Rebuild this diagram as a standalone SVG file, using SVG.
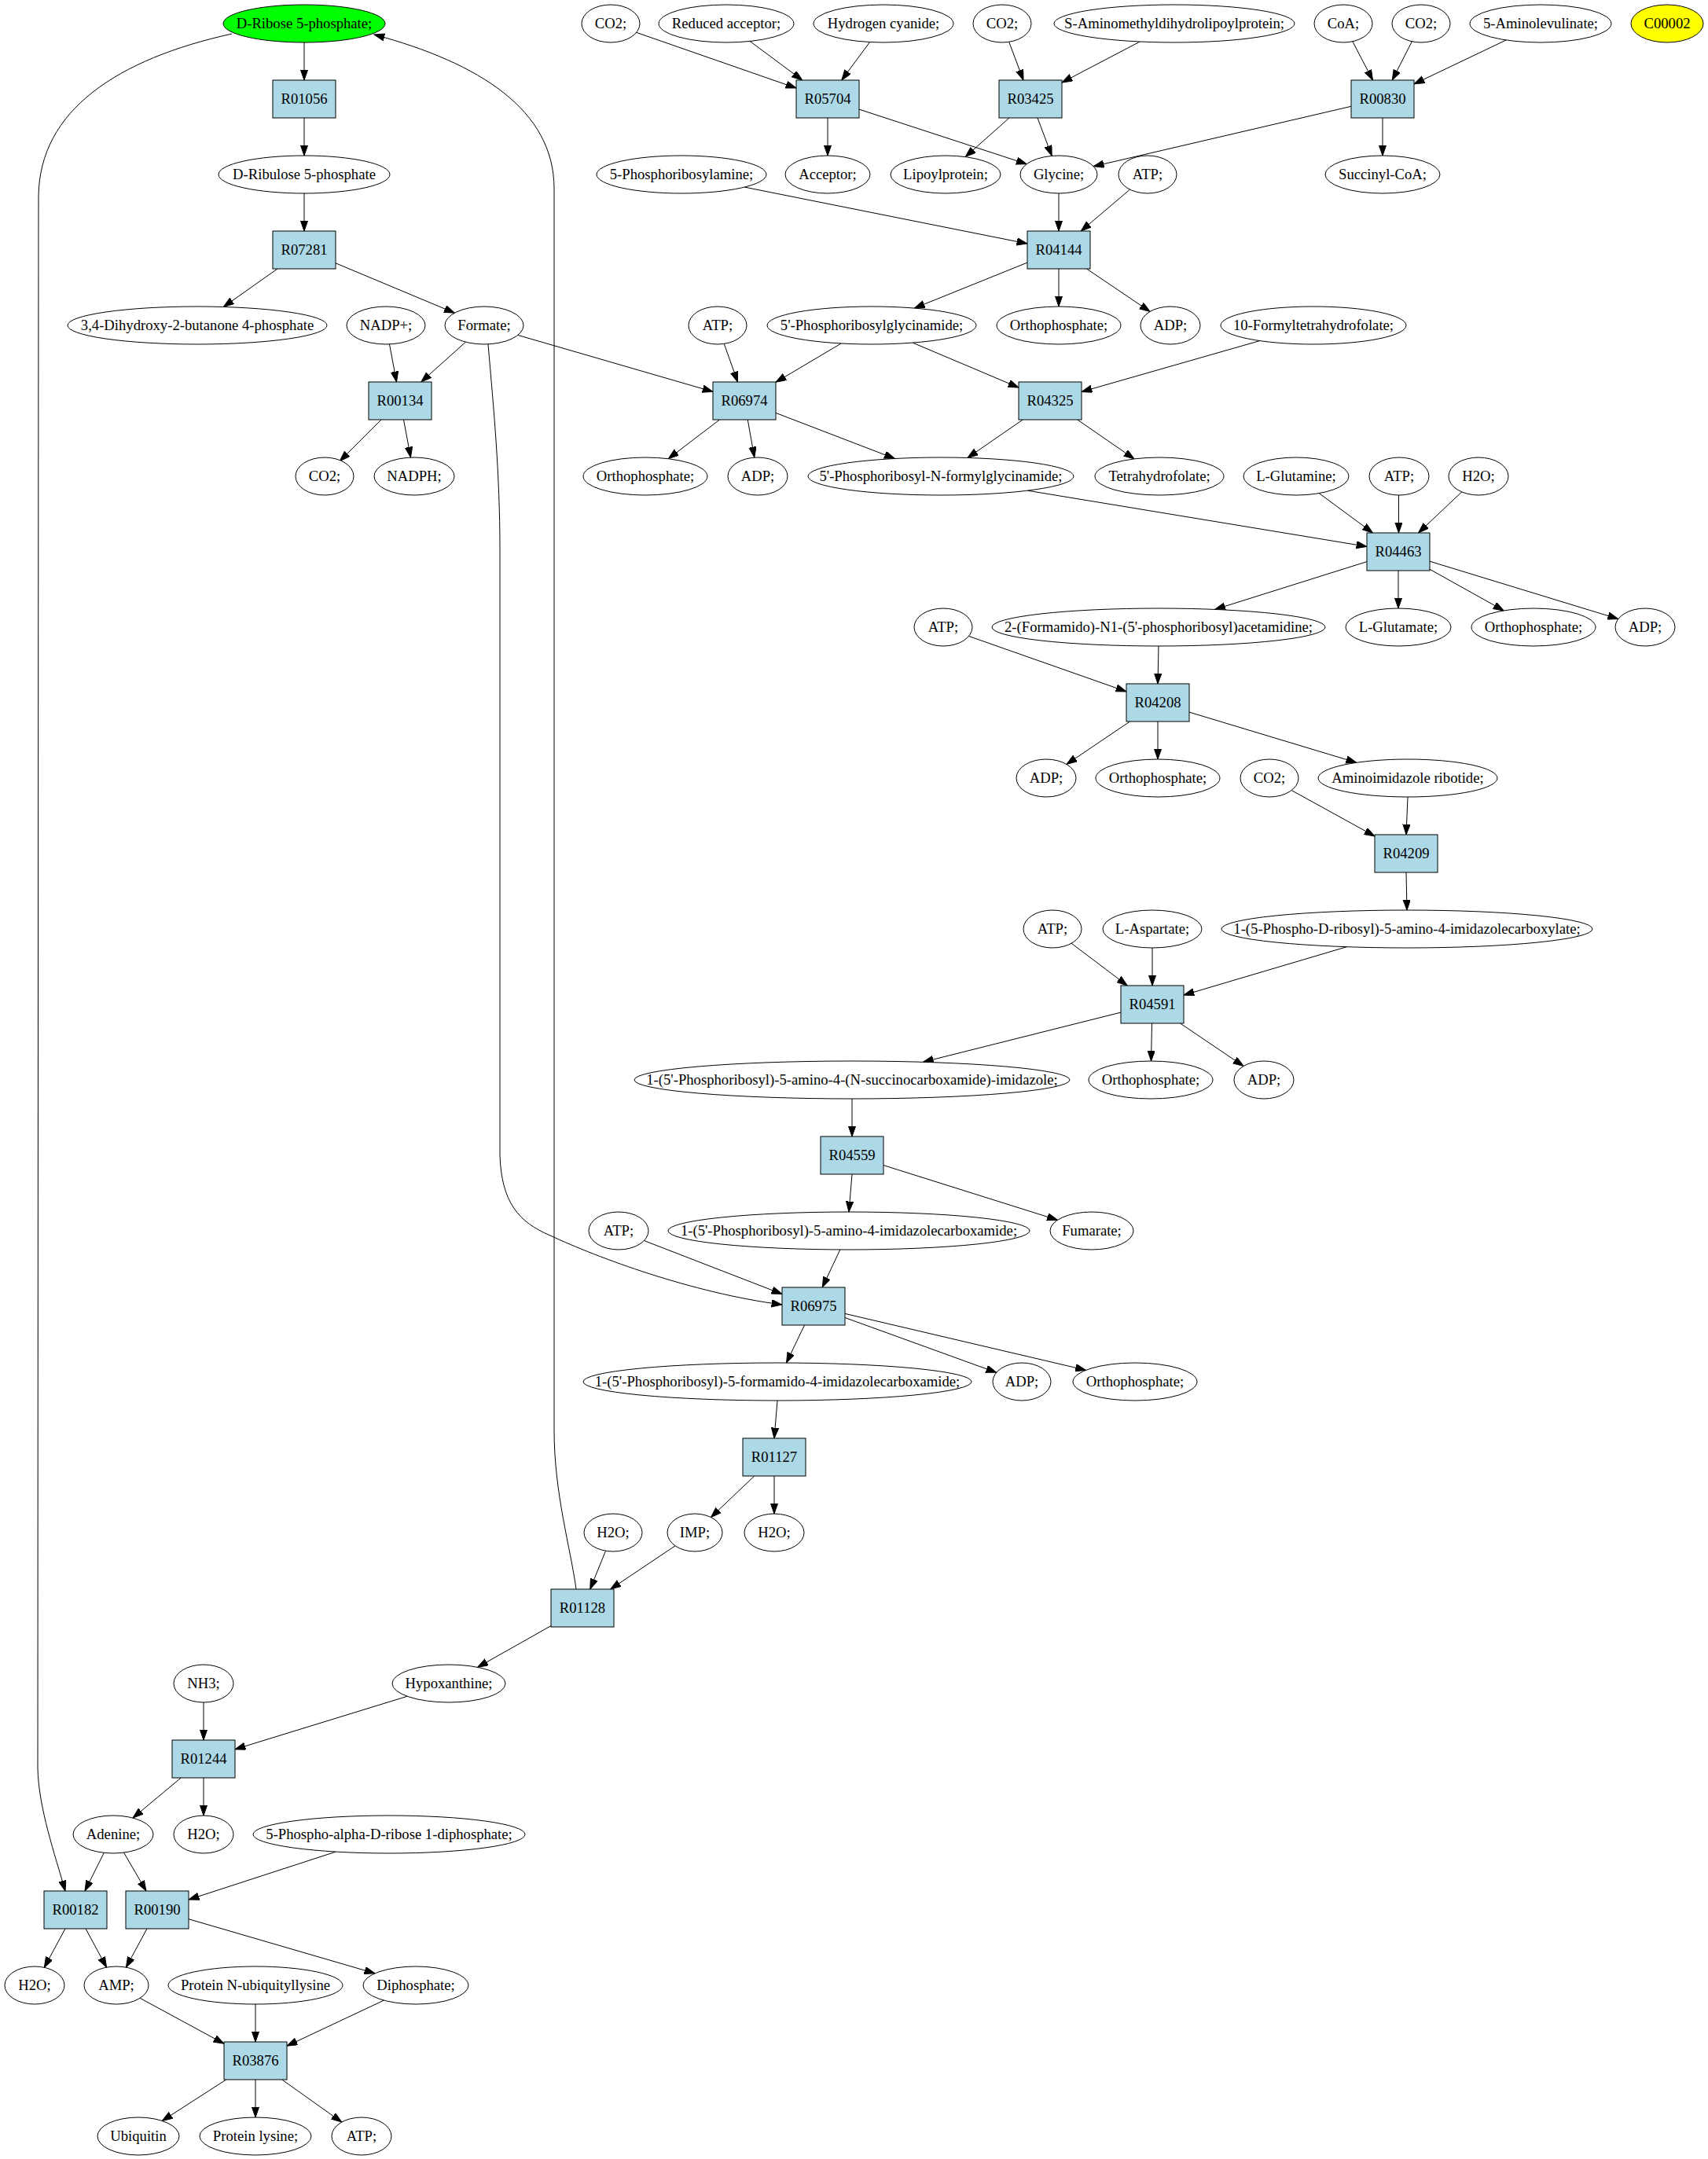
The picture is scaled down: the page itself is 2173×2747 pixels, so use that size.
<svg xmlns="http://www.w3.org/2000/svg" width="2173" height="2747" viewBox="0 0 2173 2747">
<style>
text{font-family:"Liberation Serif","Times New Roman",serif;font-size:18.67px;text-anchor:middle;fill:#000}
.c ellipse{fill:#fff;stroke:#000;stroke-width:1}
.r rect{fill:#add8e6;stroke:#000;stroke-width:1}
#edges path,#edges line{fill:none;stroke:#000;stroke-width:1;marker-end:url(#ah)}
</style>
<defs>
<marker id="ah" markerUnits="userSpaceOnUse" markerWidth="14" markerHeight="10" refX="13.33" refY="4.67" orient="auto">
<path d="M0,0 L13.33,4.67 L0,9.33 z" fill="#000" stroke="#000" stroke-width="1"/>
</marker>
</defs>
<rect width="2173" height="2747" fill="#fff"/>
<g id="edges">
<line x1="387" y1="54" x2="387" y2="102"/>
<line x1="387" y1="150" x2="387" y2="198"/>
<line x1="387" y1="246" x2="387" y2="294"/>
<line x1="353" y1="342" x2="284.3" y2="390.5"/>
<line x1="427" y1="334.8" x2="578.4" y2="398.2"/>
<line x1="495.5" y1="438" x2="504.5" y2="486"/>
<line x1="592.4" y1="435.2" x2="535.75" y2="486"/>
<line x1="485" y1="534" x2="432.3" y2="586.7"/>
<line x1="513.5" y1="534" x2="522.5" y2="582"/>
<line x1="658.8" y1="426.4" x2="907" y2="498.4"/>
<path d="M621,438 C628,520 636,600 636,700 L636,1470 C638,1530 660,1555 700,1572 C760,1600 880,1645 995,1660"/>
<path d="M295,43 C150,75 50,140 49,250 L48,2250 C49,2300 70,2360 83,2406"/>
<path d="M733,2022 C726,1970 705,1900 705,1820 L705,240 C705,140 610,80 476,44"/>
<line x1="809.6" y1="41.3" x2="1013" y2="112.1"/>
<line x1="954.2" y1="52.5" x2="1020.75" y2="102"/>
<line x1="1106.6" y1="53.5" x2="1070.75" y2="102"/>
<line x1="1053" y1="150" x2="1053" y2="198"/>
<line x1="1093" y1="139.1" x2="1306.2" y2="208.7"/>
<line x1="1283.7" y1="53.3" x2="1302" y2="102"/>
<line x1="1450.2" y1="53" x2="1351" y2="105"/>
<line x1="1284" y1="150" x2="1228.2" y2="199.6"/>
<line x1="1320" y1="150" x2="1338.2" y2="198.4"/>
<line x1="1720.8" y1="52.7" x2="1746.5" y2="102"/>
<line x1="1796.4" y1="52.7" x2="1771.25" y2="102"/>
<line x1="1916.1" y1="51" x2="1799" y2="106.9"/>
<line x1="1719" y1="135.3" x2="1391.2" y2="211.7"/>
<line x1="1759" y1="150" x2="1759" y2="198"/>
<line x1="947.3" y1="238.1" x2="1307" y2="310"/>
<line x1="1347" y1="246" x2="1347" y2="294"/>
<line x1="1437.5" y1="241.1" x2="1375.25" y2="294"/>
<line x1="1307" y1="334.1" x2="1163.3" y2="392.1"/>
<line x1="1347" y1="342" x2="1347" y2="390"/>
<line x1="1382.5" y1="342" x2="1463.1" y2="396.5"/>
<line x1="921.3" y1="437.5" x2="938.5" y2="486"/>
<line x1="1070.3" y1="436.9" x2="987" y2="486.3"/>
<line x1="1161.2" y1="436.1" x2="1296" y2="493.1"/>
<line x1="1602.7" y1="433.6" x2="1376" y2="498.5"/>
<line x1="915.5" y1="534" x2="850.3" y2="583.7"/>
<line x1="951.25" y1="534" x2="959.8" y2="582"/>
<line x1="987" y1="525.4" x2="1138.4" y2="583.5"/>
<line x1="1301.25" y1="534" x2="1231" y2="582.5"/>
<line x1="1370.75" y1="534" x2="1443" y2="583.9"/>
<line x1="1307.3" y1="624.2" x2="1739" y2="695.4"/>
<line x1="1678.2" y1="627.6" x2="1746.5" y2="678"/>
<line x1="1779.5" y1="630" x2="1779.5" y2="678"/>
<line x1="1859.8" y1="625.9" x2="1804.5" y2="678"/>
<line x1="1739" y1="714.6" x2="1545.7" y2="775.4"/>
<line x1="1779" y1="726" x2="1779" y2="774"/>
<line x1="1819" y1="724.3" x2="1913.2" y2="776.9"/>
<line x1="1819" y1="714.2" x2="2058.8" y2="787.5"/>
<line x1="1232.5" y1="809.4" x2="1433" y2="879.9"/>
<line x1="1474" y1="822" x2="1473" y2="870"/>
<line x1="1437.5" y1="918" x2="1356.9" y2="972.5"/>
<line x1="1473" y1="918" x2="1473" y2="966"/>
<line x1="1513" y1="906.1" x2="1725.8" y2="970.3"/>
<line x1="1643.2" y1="1005.6" x2="1749" y2="1063.9"/>
<line x1="1791" y1="1014" x2="1789" y2="1062"/>
<line x1="1789" y1="1110" x2="1790" y2="1158"/>
<line x1="1363.1" y1="1200.2" x2="1434.25" y2="1254"/>
<line x1="1466" y1="1206" x2="1466" y2="1254"/>
<line x1="1713.4" y1="1204.7" x2="1506" y2="1266.1"/>
<line x1="1426" y1="1288.1" x2="1174.3" y2="1351.3"/>
<line x1="1465.5" y1="1302" x2="1464.5" y2="1350"/>
<line x1="1501.5" y1="1302" x2="1582.1" y2="1356.5"/>
<line x1="1084" y1="1398" x2="1084" y2="1446"/>
<line x1="1084" y1="1494" x2="1080" y2="1542"/>
<line x1="1124" y1="1482.6" x2="1345.5" y2="1552.3"/>
<line x1="819.4" y1="1578.5" x2="995" y2="1646.5"/>
<line x1="1068.8" y1="1590" x2="1046.25" y2="1638"/>
<line x1="1023.5" y1="1686" x2="1000.5" y2="1734"/>
<line x1="1075" y1="1676.5" x2="1267.7" y2="1746.3"/>
<line x1="1075" y1="1671.4" x2="1381.5" y2="1743.3"/>
<line x1="989" y1="1782" x2="985" y2="1830"/>
<line x1="959.75" y1="1878" x2="904.5" y2="1930.5"/>
<line x1="985" y1="1878" x2="985" y2="1926"/>
<line x1="770.5" y1="1973.3" x2="750.75" y2="2022"/>
<line x1="859" y1="1966.8" x2="776.75" y2="2022"/>
<line x1="701" y1="2068.6" x2="607.6" y2="2121.3"/>
<line x1="259" y1="2166" x2="259" y2="2214"/>
<line x1="518.1" y1="2158.3" x2="299" y2="2225.7"/>
<line x1="230.25" y1="2262" x2="169" y2="2313.1"/>
<line x1="259" y1="2262" x2="259" y2="2310"/>
<line x1="132.3" y1="2357.4" x2="108" y2="2406"/>
<line x1="157.5" y1="2357.1" x2="186" y2="2406"/>
<line x1="427.2" y1="2356.1" x2="240" y2="2417"/>
<line x1="83" y1="2454" x2="56.3" y2="2503.3"/>
<line x1="109" y1="2454" x2="135.6" y2="2503.1"/>
<line x1="187" y1="2454" x2="160.4" y2="2503.1"/>
<line x1="240" y1="2441.7" x2="477" y2="2510.8"/>
<line x1="178.1" y1="2542.3" x2="285" y2="2600.3"/>
<line x1="325" y1="2550" x2="325" y2="2598"/>
<line x1="488.4" y1="2545.1" x2="365" y2="2603.2"/>
<line x1="287.75" y1="2646" x2="206.3" y2="2698.5"/>
<line x1="325" y1="2646" x2="325" y2="2694"/>
<line x1="358.75" y1="2646" x2="434.8" y2="2700.1"/>
</g>
<g id="n_rib5p" class="c"><ellipse cx="387" cy="30" rx="103" ry="24" style="fill:#00ff00"/><text x="387" y="36">D-Ribose 5-phosphate;</text></g>
<g id="n_co2a" class="c"><ellipse cx="777" cy="30" rx="37" ry="24"/><text x="777" y="36">CO2;</text></g>
<g id="n_redacc" class="c"><ellipse cx="924" cy="30" rx="86" ry="24"/><text x="924" y="36">Reduced acceptor;</text></g>
<g id="n_hcn" class="c"><ellipse cx="1124" cy="30" rx="89" ry="24"/><text x="1124" y="36">Hydrogen cyanide;</text></g>
<g id="n_co2b" class="c"><ellipse cx="1275" cy="30" rx="37" ry="24"/><text x="1275" y="36">CO2;</text></g>
<g id="n_samdl" class="c"><ellipse cx="1494" cy="30" rx="153" ry="24"/><text x="1494" y="36">S-Aminomethyldihydrolipoylprotein;</text></g>
<g id="n_coa" class="c"><ellipse cx="1709" cy="30" rx="37" ry="24"/><text x="1709" y="36">CoA;</text></g>
<g id="n_co2c" class="c"><ellipse cx="1808" cy="30" rx="37" ry="24"/><text x="1808" y="36">CO2;</text></g>
<g id="n_ala" class="c"><ellipse cx="1960" cy="30" rx="90" ry="24"/><text x="1960" y="36">5-Aminolevulinate;</text></g>
<g id="n_c00002" class="c"><ellipse cx="2121" cy="30" rx="46" ry="24" style="fill:#ffff00"/><text x="2121" y="36">C00002</text></g>
<g id="R01056" class="r"><rect x="347" y="102" width="80" height="48"/><text x="387" y="132">R01056</text></g>
<g id="R05704" class="r"><rect x="1013" y="102" width="80" height="48"/><text x="1053" y="132">R05704</text></g>
<g id="R03425" class="r"><rect x="1271" y="102" width="80" height="48"/><text x="1311" y="132">R03425</text></g>
<g id="R00830" class="r"><rect x="1719" y="102" width="80" height="48"/><text x="1759" y="132">R00830</text></g>
<g id="n_ribu5p" class="c"><ellipse cx="387" cy="222" rx="109" ry="24"/><text x="387" y="228">D-Ribulose 5-phosphate</text></g>
<g id="n_pra" class="c"><ellipse cx="867" cy="222" rx="108" ry="24"/><text x="867" y="228">5-Phosphoribosylamine;</text></g>
<g id="n_acceptor" class="c"><ellipse cx="1053" cy="222" rx="54" ry="24"/><text x="1053" y="228">Acceptor;</text></g>
<g id="n_lipoyl" class="c"><ellipse cx="1203" cy="222" rx="70" ry="24"/><text x="1203" y="228">Lipoylprotein;</text></g>
<g id="n_glycine" class="c"><ellipse cx="1347" cy="222" rx="49" ry="24"/><text x="1347" y="228">Glycine;</text></g>
<g id="n_atp1" class="c"><ellipse cx="1460" cy="222" rx="37" ry="24"/><text x="1460" y="228">ATP;</text></g>
<g id="n_succoa" class="c"><ellipse cx="1759" cy="222" rx="73" ry="24"/><text x="1759" y="228">Succinyl-CoA;</text></g>
<g id="R07281" class="r"><rect x="347" y="294" width="80" height="48"/><text x="387" y="324">R07281</text></g>
<g id="R04144" class="r"><rect x="1307" y="294" width="80" height="48"/><text x="1347" y="324">R04144</text></g>
<g id="n_dhbp" class="c"><ellipse cx="251" cy="414" rx="165" ry="24"/><text x="251" y="420">3,4-Dihydroxy-2-butanone 4-phosphate</text></g>
<g id="n_nadp" class="c"><ellipse cx="491" cy="414" rx="50" ry="24"/><text x="491" y="420">NADP+;</text></g>
<g id="n_formate" class="c"><ellipse cx="616" cy="414" rx="50" ry="24"/><text x="616" y="420">Formate;</text></g>
<g id="n_atp2" class="c"><ellipse cx="913" cy="414" rx="37" ry="24"/><text x="913" y="420">ATP;</text></g>
<g id="n_gar" class="c"><ellipse cx="1109" cy="414" rx="133" ry="24"/><text x="1109" y="420">5'-Phosphoribosylglycinamide;</text></g>
<g id="n_pi1" class="c"><ellipse cx="1347" cy="414" rx="79" ry="24"/><text x="1347" y="420">Orthophosphate;</text></g>
<g id="n_adp1" class="c"><ellipse cx="1489" cy="414" rx="38" ry="24"/><text x="1489" y="420">ADP;</text></g>
<g id="n_fthf" class="c"><ellipse cx="1671" cy="414" rx="118" ry="24"/><text x="1671" y="420">10-Formyltetrahydrofolate;</text></g>
<g id="R00134" class="r"><rect x="469" y="486" width="80" height="48"/><text x="509" y="516">R00134</text></g>
<g id="R06974" class="r"><rect x="907" y="486" width="80" height="48"/><text x="947" y="516">R06974</text></g>
<g id="R04325" class="r"><rect x="1296" y="486" width="80" height="48"/><text x="1336" y="516">R04325</text></g>
<g id="n_co2d" class="c"><ellipse cx="413" cy="606" rx="37" ry="24"/><text x="413" y="612">CO2;</text></g>
<g id="n_nadph" class="c"><ellipse cx="527" cy="606" rx="51" ry="24"/><text x="527" y="612">NADPH;</text></g>
<g id="n_pi2" class="c"><ellipse cx="821" cy="606" rx="79" ry="24"/><text x="821" y="612">Orthophosphate;</text></g>
<g id="n_adp2" class="c"><ellipse cx="964" cy="606" rx="38" ry="24"/><text x="964" y="612">ADP;</text></g>
<g id="n_fgar" class="c"><ellipse cx="1197" cy="606" rx="169" ry="24"/><text x="1197" y="612">5'-Phosphoribosyl-N-formylglycinamide;</text></g>
<g id="n_thf" class="c"><ellipse cx="1475" cy="606" rx="82" ry="24"/><text x="1475" y="612">Tetrahydrofolate;</text></g>
<g id="n_gln" class="c"><ellipse cx="1649" cy="606" rx="67" ry="24"/><text x="1649" y="612">L-Glutamine;</text></g>
<g id="n_atp3" class="c"><ellipse cx="1780" cy="606" rx="38" ry="24"/><text x="1780" y="612">ATP;</text></g>
<g id="n_h2o1" class="c"><ellipse cx="1881" cy="606" rx="38" ry="24"/><text x="1881" y="612">H2O;</text></g>
<g id="R04463" class="r"><rect x="1739" y="678" width="80" height="48"/><text x="1779" y="708">R04463</text></g>
<g id="n_atp4" class="c"><ellipse cx="1200" cy="798" rx="37" ry="24"/><text x="1200" y="804">ATP;</text></g>
<g id="n_fgam" class="c"><ellipse cx="1474" cy="798" rx="212" ry="24"/><text x="1474" y="804">2-(Formamido)-N1-(5'-phosphoribosyl)acetamidine;</text></g>
<g id="n_glu" class="c"><ellipse cx="1779" cy="798" rx="67" ry="24"/><text x="1779" y="804">L-Glutamate;</text></g>
<g id="n_pi3" class="c"><ellipse cx="1951" cy="798" rx="79" ry="24"/><text x="1951" y="804">Orthophosphate;</text></g>
<g id="n_adp3" class="c"><ellipse cx="2093" cy="798" rx="38" ry="24"/><text x="2093" y="804">ADP;</text></g>
<g id="R04208" class="r"><rect x="1433" y="870" width="80" height="48"/><text x="1473" y="900">R04208</text></g>
<g id="n_adp4" class="c"><ellipse cx="1331" cy="990" rx="38" ry="24"/><text x="1331" y="996">ADP;</text></g>
<g id="n_pi4" class="c"><ellipse cx="1473" cy="990" rx="79" ry="24"/><text x="1473" y="996">Orthophosphate;</text></g>
<g id="n_co2e" class="c"><ellipse cx="1615" cy="990" rx="37" ry="24"/><text x="1615" y="996">CO2;</text></g>
<g id="n_air" class="c"><ellipse cx="1791" cy="990" rx="114" ry="24"/><text x="1791" y="996">Aminoimidazole ribotide;</text></g>
<g id="R04209" class="r"><rect x="1749" y="1062" width="80" height="48"/><text x="1789" y="1092">R04209</text></g>
<g id="n_atp5" class="c"><ellipse cx="1339" cy="1182" rx="37" ry="24"/><text x="1339" y="1188">ATP;</text></g>
<g id="n_asp" class="c"><ellipse cx="1466" cy="1182" rx="63" ry="24"/><text x="1466" y="1188">L-Aspartate;</text></g>
<g id="n_cair" class="c"><ellipse cx="1790" cy="1182" rx="236" ry="24"/><text x="1790" y="1188">1-(5-Phospho-D-ribosyl)-5-amino-4-imidazolecarboxylate;</text></g>
<g id="R04591" class="r"><rect x="1426" y="1254" width="80" height="48"/><text x="1466" y="1284">R04591</text></g>
<g id="n_saicar" class="c"><ellipse cx="1084" cy="1374" rx="277" ry="24"/><text x="1084" y="1380">1-(5'-Phosphoribosyl)-5-amino-4-(N-succinocarboxamide)-imidazole;</text></g>
<g id="n_pi5" class="c"><ellipse cx="1464" cy="1374" rx="79" ry="24"/><text x="1464" y="1380">Orthophosphate;</text></g>
<g id="n_adp5" class="c"><ellipse cx="1608" cy="1374" rx="38" ry="24"/><text x="1608" y="1380">ADP;</text></g>
<g id="R04559" class="r"><rect x="1044" y="1446" width="80" height="48"/><text x="1084" y="1476">R04559</text></g>
<g id="n_atp6" class="c"><ellipse cx="787" cy="1566" rx="38" ry="24"/><text x="787" y="1572">ATP;</text></g>
<g id="n_aicar" class="c"><ellipse cx="1080" cy="1566" rx="230" ry="24"/><text x="1080" y="1572">1-(5'-Phosphoribosyl)-5-amino-4-imidazolecarboxamide;</text></g>
<g id="n_fumarate" class="c"><ellipse cx="1389" cy="1566" rx="53" ry="24"/><text x="1389" y="1572">Fumarate;</text></g>
<g id="R06975" class="r"><rect x="995" y="1638" width="80" height="48"/><text x="1035" y="1668">R06975</text></g>
<g id="n_faicar" class="c"><ellipse cx="989" cy="1758" rx="247" ry="24"/><text x="989" y="1764">1-(5'-Phosphoribosyl)-5-formamido-4-imidazolecarboxamide;</text></g>
<g id="n_adp6" class="c"><ellipse cx="1300" cy="1758" rx="37" ry="24"/><text x="1300" y="1764">ADP;</text></g>
<g id="n_pi6" class="c"><ellipse cx="1444" cy="1758" rx="79" ry="24"/><text x="1444" y="1764">Orthophosphate;</text></g>
<g id="R01127" class="r"><rect x="945" y="1830" width="80" height="48"/><text x="985" y="1860">R01127</text></g>
<g id="n_h2o2" class="c"><ellipse cx="780" cy="1950" rx="37" ry="24"/><text x="780" y="1956">H2O;</text></g>
<g id="n_imp" class="c"><ellipse cx="884" cy="1950" rx="35" ry="24"/><text x="884" y="1956">IMP;</text></g>
<g id="n_h2o3" class="c"><ellipse cx="985" cy="1950" rx="38" ry="24"/><text x="985" y="1956">H2O;</text></g>
<g id="R01128" class="r"><rect x="701" y="2022" width="80" height="48"/><text x="741" y="2052">R01128</text></g>
<g id="n_nh3" class="c"><ellipse cx="259" cy="2142" rx="38" ry="24"/><text x="259" y="2148">NH3;</text></g>
<g id="n_hypox" class="c"><ellipse cx="571" cy="2142" rx="72" ry="24"/><text x="571" y="2148">Hypoxanthine;</text></g>
<g id="R01244" class="r"><rect x="219" y="2214" width="80" height="48"/><text x="259" y="2244">R01244</text></g>
<g id="n_adenine" class="c"><ellipse cx="144" cy="2334" rx="51" ry="24"/><text x="144" y="2340">Adenine;</text></g>
<g id="n_h2o4" class="c"><ellipse cx="259" cy="2334" rx="38" ry="24"/><text x="259" y="2340">H2O;</text></g>
<g id="n_prpp" class="c"><ellipse cx="495" cy="2334" rx="173" ry="24"/><text x="495" y="2340">5-Phospho-alpha-D-ribose 1-diphosphate;</text></g>
<g id="R00182" class="r"><rect x="56" y="2406" width="80" height="48"/><text x="96" y="2436">R00182</text></g>
<g id="R00190" class="r"><rect x="160" y="2406" width="80" height="48"/><text x="200" y="2436">R00190</text></g>
<g id="n_h2o5" class="c"><ellipse cx="44" cy="2526" rx="38" ry="24"/><text x="44" y="2532">H2O;</text></g>
<g id="n_amp" class="c"><ellipse cx="148" cy="2526" rx="41" ry="24"/><text x="148" y="2532">AMP;</text></g>
<g id="n_pnul" class="c"><ellipse cx="325" cy="2526" rx="111" ry="24"/><text x="325" y="2532">Protein N-ubiquityllysine</text></g>
<g id="n_ppi" class="c"><ellipse cx="529" cy="2526" rx="67" ry="24"/><text x="529" y="2532">Diphosphate;</text></g>
<g id="R03876" class="r"><rect x="285" y="2598" width="80" height="48"/><text x="325" y="2628">R03876</text></g>
<g id="n_ubiquitin" class="c"><ellipse cx="176" cy="2718" rx="52" ry="24"/><text x="176" y="2724">Ubiquitin</text></g>
<g id="n_plys" class="c"><ellipse cx="325" cy="2718" rx="71" ry="24"/><text x="325" y="2724">Protein lysine;</text></g>
<g id="n_atp7" class="c"><ellipse cx="460" cy="2718" rx="38" ry="24"/><text x="460" y="2724">ATP;</text></g>
</svg>
